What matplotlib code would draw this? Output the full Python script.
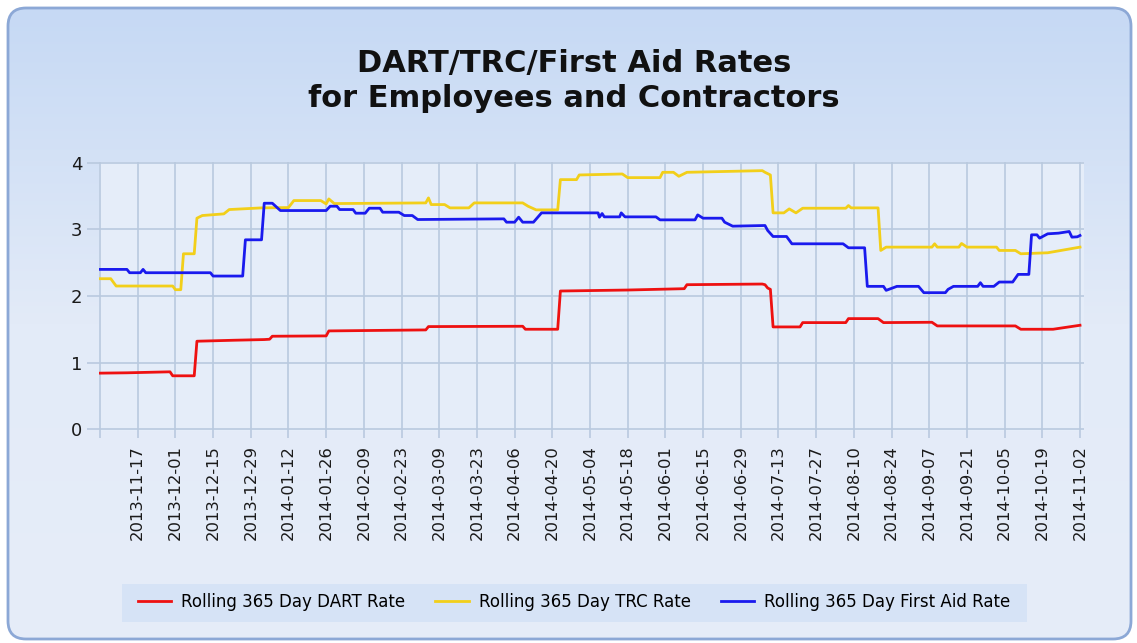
import numpy as np
import pandas as pd
import matplotlib
matplotlib.use('Agg')
import matplotlib.pyplot as plt
from matplotlib.colors import LinearSegmentedColormap
from matplotlib.patches import FancyBboxPatch

# first day shown on the chart, series x values are day offsets from it
start = pd.Timestamp('2013-11-03')

dart_day = [0, 10, 26, 27, 35, 36, 50, 61, 63, 64, 84, 85, 121, 122, 157, 158, 170, 171,
            196, 217, 218, 246, 247, 248, 249, 250, 260, 261, 277, 278, 289, 291, 309, 311,
            340, 342, 354, 364]
dart_rate = [0.84, 0.845, 0.86, 0.80, 0.80, 1.32, 1.335, 1.345, 1.35, 1.395, 1.40, 1.475, 1.49,
             1.54, 1.545, 1.50, 1.50, 2.075, 2.09, 2.11, 2.17, 2.18, 2.17, 2.12, 2.10, 1.535,
             1.535, 1.60, 1.60, 1.66, 1.66, 1.60, 1.605, 1.55, 1.55, 1.50, 1.50, 1.56]

trc_day = [0, 4, 6, 27, 28, 30, 31, 35, 36, 38, 46, 48, 60, 70, 72, 82, 84, 85, 87, 121, 122,
           123, 128, 130, 137, 139, 157, 159, 162, 170, 171, 177, 178, 194, 196, 208, 209, 213,
           215, 218, 246, 247, 249, 250, 254, 256, 258.5, 261, 277, 278, 279, 289, 290, 292,
           309, 310, 311, 319, 320, 322, 333, 334, 340, 342, 352, 364]
trc_rate = [2.26, 2.26, 2.15, 2.15, 2.095, 2.095, 2.635, 2.635, 3.17, 3.21, 3.235, 3.30, 3.325,
            3.33, 3.435, 3.435, 3.385, 3.46, 3.39, 3.40, 3.475, 3.375, 3.375, 3.325, 3.325, 3.40,
            3.40, 3.35, 3.295, 3.295, 3.75, 3.75, 3.82, 3.835, 3.78, 3.78, 3.86, 3.86, 3.80,
            3.86, 3.885, 3.86, 3.82, 3.25, 3.25, 3.31, 3.25, 3.32, 3.32, 3.36, 3.325, 3.325,
            2.685, 2.735, 2.735, 2.785, 2.735, 2.735, 2.79, 2.735, 2.735, 2.685, 2.685, 2.635,
            2.65, 2.735]

aid_day = [0, 10, 11, 15, 16, 17, 41, 42, 53, 54, 60, 61, 64, 67, 84, 85.5, 88, 89, 94, 95,
           98.5, 100, 104, 105, 111, 113, 116, 118, 150, 151, 154, 155.5, 157, 161, 164, 185,
           185.5, 186.5, 187.3, 193, 193.6, 195, 206.5, 208, 221, 222, 224, 231, 232, 235, 247,
           248, 250, 255, 257, 276, 278, 284, 285, 291, 292, 296, 304, 306, 314, 315, 317, 326,
           327, 328, 332, 334, 339, 341, 345, 346, 348, 349, 352, 356, 360, 361, 363, 364]
aid_rate = [2.40, 2.40, 2.35, 2.35, 2.40, 2.35, 2.35, 2.30, 2.30, 2.845, 2.845, 3.395, 3.395,
            3.285, 3.285, 3.35, 3.35, 3.30, 3.30, 3.245, 3.245, 3.32, 3.32, 3.26, 3.26, 3.21,
            3.21, 3.15, 3.16, 3.11, 3.11, 3.185, 3.11, 3.11, 3.25, 3.25, 3.185, 3.24, 3.19, 3.19,
            3.25, 3.19, 3.19, 3.145, 3.145, 3.22, 3.17, 3.17, 3.11, 3.05, 3.06, 2.985, 2.895,
            2.895, 2.785, 2.785, 2.725, 2.725, 2.145, 2.145, 2.085, 2.145, 2.145, 2.05, 2.05,
            2.10, 2.145, 2.145, 2.20, 2.145, 2.145, 2.21, 2.21, 2.325, 2.325, 2.92, 2.92, 2.87,
            2.935, 2.945, 2.97, 2.885, 2.89, 2.91]

tick_labels = ['', '2013-11-17', '2013-12-01', '2013-12-15', '2013-12-29', '2014-01-12',
               '2014-01-26', '2014-02-09', '2014-02-23', '2014-03-09', '2014-03-23',
               '2014-04-06', '2014-04-20', '2014-05-04', '2014-05-18', '2014-06-01',
               '2014-06-15', '2014-06-29', '2014-07-13', '2014-07-27', '2014-08-10',
               '2014-08-24', '2014-09-07', '2014-09-21', '2014-10-05', '2014-10-19',
               '2014-11-02']

def to_dates(days):
    return start + pd.to_timedelta(days, unit='D')

W, H = 1137, 643
fig = plt.figure(figsize=(W / 100, H / 100), dpi=100)
fig.patch.set_facecolor('white')

# rounded gradient panel behind everything
bg = fig.add_axes([0, 0, 1, 1])
bg.set_xlim(0, W)
bg.set_ylim(H, 0)
bg.axis('off')
cmap = LinearSegmentedColormap.from_list('panel', ['#c6d9f4', '#e3ebf8', '#e6edf9'])
im = bg.imshow(np.linspace(0, 1, 256).reshape(-1, 1), cmap=cmap, aspect='auto',
               extent=[8, 1131, 639, 8])
panel = FancyBboxPatch((8, 8), 1123, 631, boxstyle='round,pad=0,rounding_size=18',
                       fc='none', ec='#8ca8d6', lw=2)
bg.add_patch(panel)
im.set_clip_path(panel)

# legend strip
bg.add_patch(plt.Rectangle((122, 584), 905, 38, fc='#d6e3f6', ec='none'))

fig.text(574 / W, 1 - 81 / H, 'DART/TRC/First Aid Rates\nfor Employees and Contractors',
         ha='center', va='center', fontsize=22, fontweight='bold', color='#111111',
         linespacing=1.3)

px_day = 980 / 364
x0, x1 = -0.4, 365.5
left = 100 + x0 * px_day
right = 100 + x1 * px_day
ax = fig.add_axes([left / W, 1 - 431 / H, (right - left) / W, 269 / H])
ax.set_facecolor('#e5edf9')

grid_c = '#b9c9df'
ax.plot(to_dates(dart_day), dart_rate, color='#ee1111', lw=2, label='Rolling 365 Day DART Rate')
ax.plot(to_dates(trc_day), trc_rate, color='#f2cf1a', lw=2, label='Rolling 365 Day TRC Rate')
ax.plot(to_dates(aid_day), aid_rate, color='#1a1aee', lw=2, label='Rolling 365 Day First Aid Rate')

ax.set_xlim(start + pd.Timedelta(days=x0), start + pd.Timedelta(days=x1))
ax.set_ylim(-0.03, 4.015)
ax.set_xticks(pd.date_range(start, periods=len(tick_labels), freq='14D'))
ax.set_xticklabels(tick_labels, rotation=90, fontsize=11.8, color='#1a1a1a')
ax.set_yticks([0, 1, 2, 3, 4])
ax.set_yticklabels(['0', '1', '2', '3', '4'], fontsize=13, color='#1a1a1a')
ax.tick_params(axis='x', length=5, width=1.2, color=grid_c, pad=5)
ax.tick_params(axis='y', length=8.6, width=1.2, color=grid_c, pad=3.5)
ax.grid(True, color=grid_c, lw=1.2)
ax.set_axisbelow(True)
for s in ax.spines.values():
    s.set_visible(False)

fig.legend(loc='center', bbox_to_anchor=(574 / W, 1 - 602 / H), ncol=3, frameon=False,
           fontsize=12, handlelength=2.0, handletextpad=0.6, columnspacing=1.8)

fig.savefig('out.png', dpi=100)
